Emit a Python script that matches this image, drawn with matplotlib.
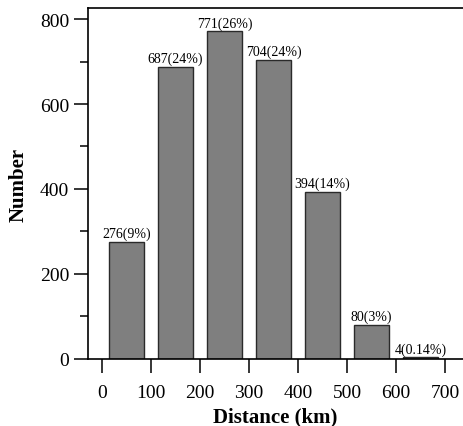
import matplotlib.pyplot as plt
from matplotlib.ticker import MultipleLocator

plt.rcParams['font.family'] = ['Liberation Serif', 'DejaVu Serif']

bin_centers = [50, 150, 250, 350, 450, 550, 650]
counts = [276, 687, 771, 704, 394, 80, 4]
labels = ["276(9%)", "687(24%)", "771(26%)", "704(24%)", "394(14%)", "80(3%)", "4(0.14%)"]

fig = plt.figure(figsize=(4.63, 4.27), dpi=100)
ax = fig.add_axes([0.19, 0.157, 0.81, 0.822])

ax.bar(bin_centers, counts, width=72, color="#7f7f7f", edgecolor="#2a2a2a", linewidth=1.0)
for x, c, lab in zip(bin_centers, counts, labels):
    ax.text(x, c + 4, lab, ha="center", va="bottom", fontsize=10)

ax.set_xlim(-29, 737)
ax.set_ylim(0, 826)
ax.set_xticks(range(0, 701, 100))
ax.yaxis.set_major_locator(MultipleLocator(200))
ax.yaxis.set_minor_locator(MultipleLocator(100))
ax.tick_params(axis="both", which="major", direction="out", length=10, width=1.1, labelsize=14)
ax.tick_params(axis="y", which="minor", direction="out", length=6, width=1.1)
ax.tick_params(axis="x", pad=8)

for side in ["left", "bottom", "top"]:
    ax.spines[side].set_linewidth(1.2)
ax.spines["right"].set_visible(False)

ax.set_xlabel("Distance (km)", fontsize=15, fontweight="bold", labelpad=4)
ax.set_ylabel("Number", fontsize=15, fontweight="bold", labelpad=8)

fig.savefig("out.png", dpi=100)
